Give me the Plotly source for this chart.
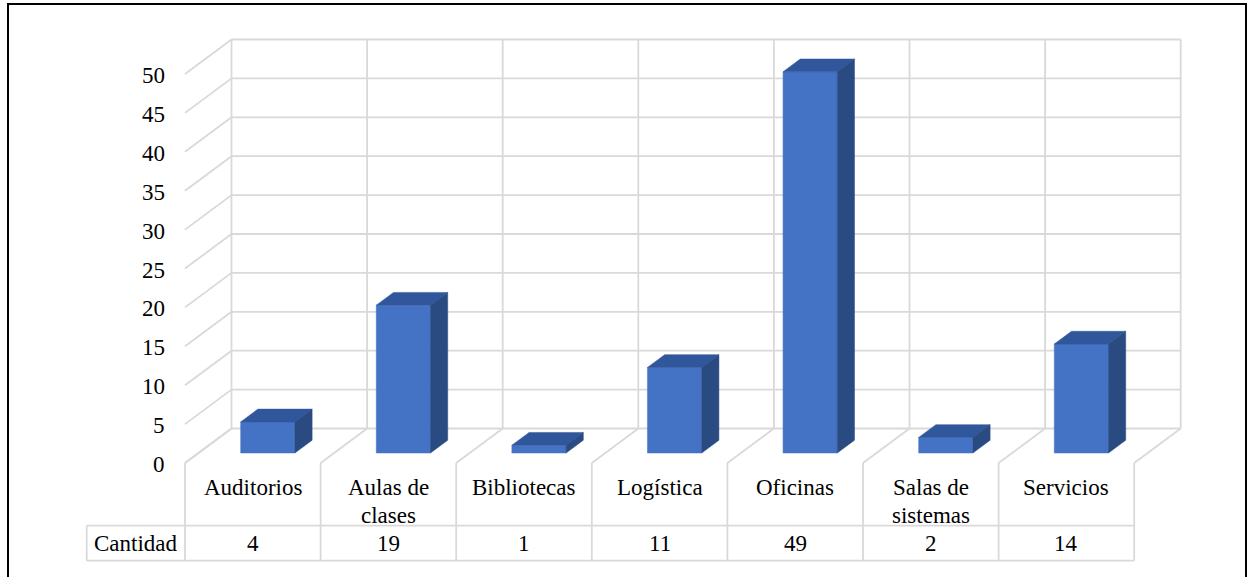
import plotly.graph_objects as go

# ---- data ----
categories = ["Auditorios", "Aulas de clases", "Bibliotecas", "Logística",
              "Oficinas", "Salas de sistemas", "Servicios"]
label_lines = [["Auditorios"], ["Aulas de", "clases"], ["Bibliotecas"], ["Logística"],
               ["Oficinas"], ["Salas de", "sistemas"], ["Servicios"]]
cantidad = [4, 19, 1, 11, 49, 2, 14]
y_ticks = [0, 5, 10, 15, 20, 25, 30, 35, 40, 45, 50]
row_title = "Cantidad"

# ---- geometry (in axis units) ----
W, H = 1248, 577
PX_CAT = 135.6          # pixels per category
PX_VAL = 7.78           # pixels per unit value
X0_PX = 252.8           # pixel of category 0 centre (front)
Y0_PX = 463.0           # pixel of value 0 (front)
DX = 46.5 / PX_CAT      # depth vector
DV = 34.5 / PX_VAL
F0 = 0.29               # bar front depth fraction
FD = 0.37               # bar depth fraction
BW = 0.40               # bar width
BSHIFT = 1.5 / PX_CAT   # small horizontal bar offset
n = len(categories)
vmax = y_ticks[-1]

def px2x(p):
    return (p - X0_PX) / PX_CAT

def px2v(p):
    return (Y0_PX - p) / PX_VAL

FONT = "Liberation Serif"
GRID = "#d9d9d9"
FRONT_C = "#4472c4"
TOP_C = "#30569b"
SIDE_C = "#2a4a82"

fig = go.Figure()

# grid / walls
gx, gy = [], []
for v in y_ticks:
    gx += [-0.5 + DX, n - 0.5 + DX, None]
    gy += [v + DV, v + DV, None]
    gx += [-0.5, -0.5 + DX, None]
    gy += [v, v + DV, None]
for k in range(n + 1):
    gx += [k - 0.5 + DX, k - 0.5 + DX, None]
    gy += [DV, vmax + DV, None]
    gx += [k - 0.5, k - 0.5 + DX, None]
    gy += [0, DV, None]

# table lines
t_mid = px2v(525.7)
t_bot = px2v(560.7)
x_left = px2x(86.7)
for k in range(n + 1):
    gx += [k - 0.5, k - 0.5, None]
    gy += [0, t_bot, None]
gx += [x_left, n - 0.5, None, x_left, n - 0.5, None, x_left, x_left, None]
gy += [t_mid, t_mid, None, t_bot, t_bot, None, t_mid, t_bot, None]

fig.add_trace(go.Scatter(x=gx, y=gy, mode="lines",
                         line=dict(color=GRID, width=1.8),
                         hoverinfo="skip", showlegend=False))

# 3D bars
ddx, ddv = FD * DX, FD * DV
for i, val in enumerate(cantidad):
    xl = i - 0.5 + F0 * DX + (1 - BW) / 2 + BSHIFT
    xr = xl + BW
    b = F0 * DV
    t = val + b
    faces = [
        ([xl, xr, xr, xl, xl], [b, b, t, t, b], FRONT_C),
        ([xl, xr, xr + ddx, xl + ddx, xl], [t, t, t + ddv, t + ddv, t], TOP_C),
        ([xr, xr + ddx, xr + ddx, xr, xr], [b, b + ddv, t + ddv, t, b], SIDE_C),
    ]
    for fxs, fys, col in faces:
        fig.add_trace(go.Scatter(x=fxs, y=fys, mode="lines", fill="toself",
                                 fillcolor=col, line=dict(color=col, width=0.5),
                                 hoverinfo="skip", showlegend=False))

ann = []
for v in y_ticks:
    ann.append(dict(x=px2x(167), y=v - 0.2, text=str(v), showarrow=False,
                    xanchor="right", yanchor="middle",
                    font=dict(family=FONT, size=23, color="#000000")))
for i, lines in enumerate(label_lines):
    for j, line in enumerate(lines):
        ann.append(dict(x=i, y=px2v(487.5 + j * 27.5), text=line, showarrow=False,
                        xanchor="center", yanchor="middle",
                        font=dict(family=FONT, size=23, color="#000000")))
for i, val in enumerate(cantidad):
    ann.append(dict(x=i, y=px2v(543.5), text=str(val), showarrow=False,
                    xanchor="center", yanchor="middle",
                    font=dict(family=FONT, size=23, color="#000000")))
ann.append(dict(x=px2x(136), y=px2v(543.5), text=row_title, showarrow=False,
                xanchor="center", yanchor="middle",
                font=dict(family=FONT, size=23, color="#000000")))

fig.update_layout(
    width=W, height=H,
    margin=dict(l=0, r=0, t=0, b=0),
    paper_bgcolor="white", plot_bgcolor="white",
    font=dict(family=FONT),
    xaxis=dict(range=[px2x(0), px2x(W)], visible=False, fixedrange=True),
    yaxis=dict(range=[px2v(H), px2v(0)], visible=False, fixedrange=True),
    annotations=ann,
    shapes=[dict(type="rect", xref="paper", yref="paper",
                 x0=8 / W, x1=1246 / W, y0=-0.05, y1=1 - 4 / H,
                 line=dict(color="black", width=2), fillcolor="rgba(0,0,0,0)")],
    showlegend=False,
)

fig.write_html("out.html", config={"displayModeBar": False},
               post_script="document.body.style.margin='0';document.body.style.overflow='hidden';")
